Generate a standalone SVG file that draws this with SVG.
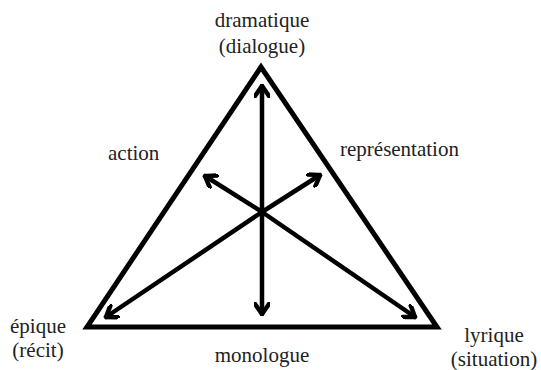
<svg xmlns="http://www.w3.org/2000/svg" width="541" height="370" viewBox="0 0 541 370">
<style>
.t{font-family:"Liberation Serif","Times New Roman","DejaVu Serif",serif;font-size:21px;fill:#222}
.c{text-anchor:middle}
.ln{stroke:#000;stroke-width:4.5;fill:none;stroke-linecap:round}
</style>
<defs>
<marker id="ah" viewBox="-12 -8 14 16" markerWidth="14" markerHeight="16" markerUnits="userSpaceOnUse" orient="auto" refX="0" refY="0">
<path d="M-10,-7 L0,0 L-10,7" fill="none" stroke="#000" stroke-width="4.5" stroke-linecap="round" stroke-linejoin="miter"/>
</marker>
</defs>
<rect width="541" height="370" fill="#fff"/>
<g id="triangle">
<polygon points="261,67 87,327 437,327" fill="none" stroke="#000" stroke-width="5" stroke-linejoin="miter"/>
</g>
<g id="connectors">
<line class="ln" x1="262" y1="212" x2="262" y2="86" marker-end="url(#ah)"/>
<line class="ln" x1="262" y1="212" x2="262" y2="314" marker-end="url(#ah)"/>
<line class="ln" x1="262" y1="212" x2="205" y2="176" marker-end="url(#ah)"/>
<line class="ln" x1="262" y1="212" x2="320" y2="175" marker-end="url(#ah)"/>
<line class="ln" x1="262" y1="212" x2="106" y2="317" marker-end="url(#ah)"/>
<line class="ln" x1="262" y1="212" x2="415" y2="317" marker-end="url(#ah)"/>
</g>
<g id="dramatique"><text class="t c" x="262" y="27">dramatique</text><text class="t c" x="262" y="53">(dialogue)</text></g>
<g id="action"><text class="t" x="108" y="160">action</text></g>
<g id="representation"><text class="t" x="340" y="156">représentation</text></g>
<g id="epique"><text class="t c" x="38" y="333">épique</text><text class="t c" x="38" y="357">(récit)</text></g>
<g id="monologue"><text class="t c" x="262" y="362">monologue</text></g>
<g id="lyrique"><text class="t c" x="494" y="342">lyrique</text><text class="t c" x="494" y="366">(situation)</text></g>
</svg>
